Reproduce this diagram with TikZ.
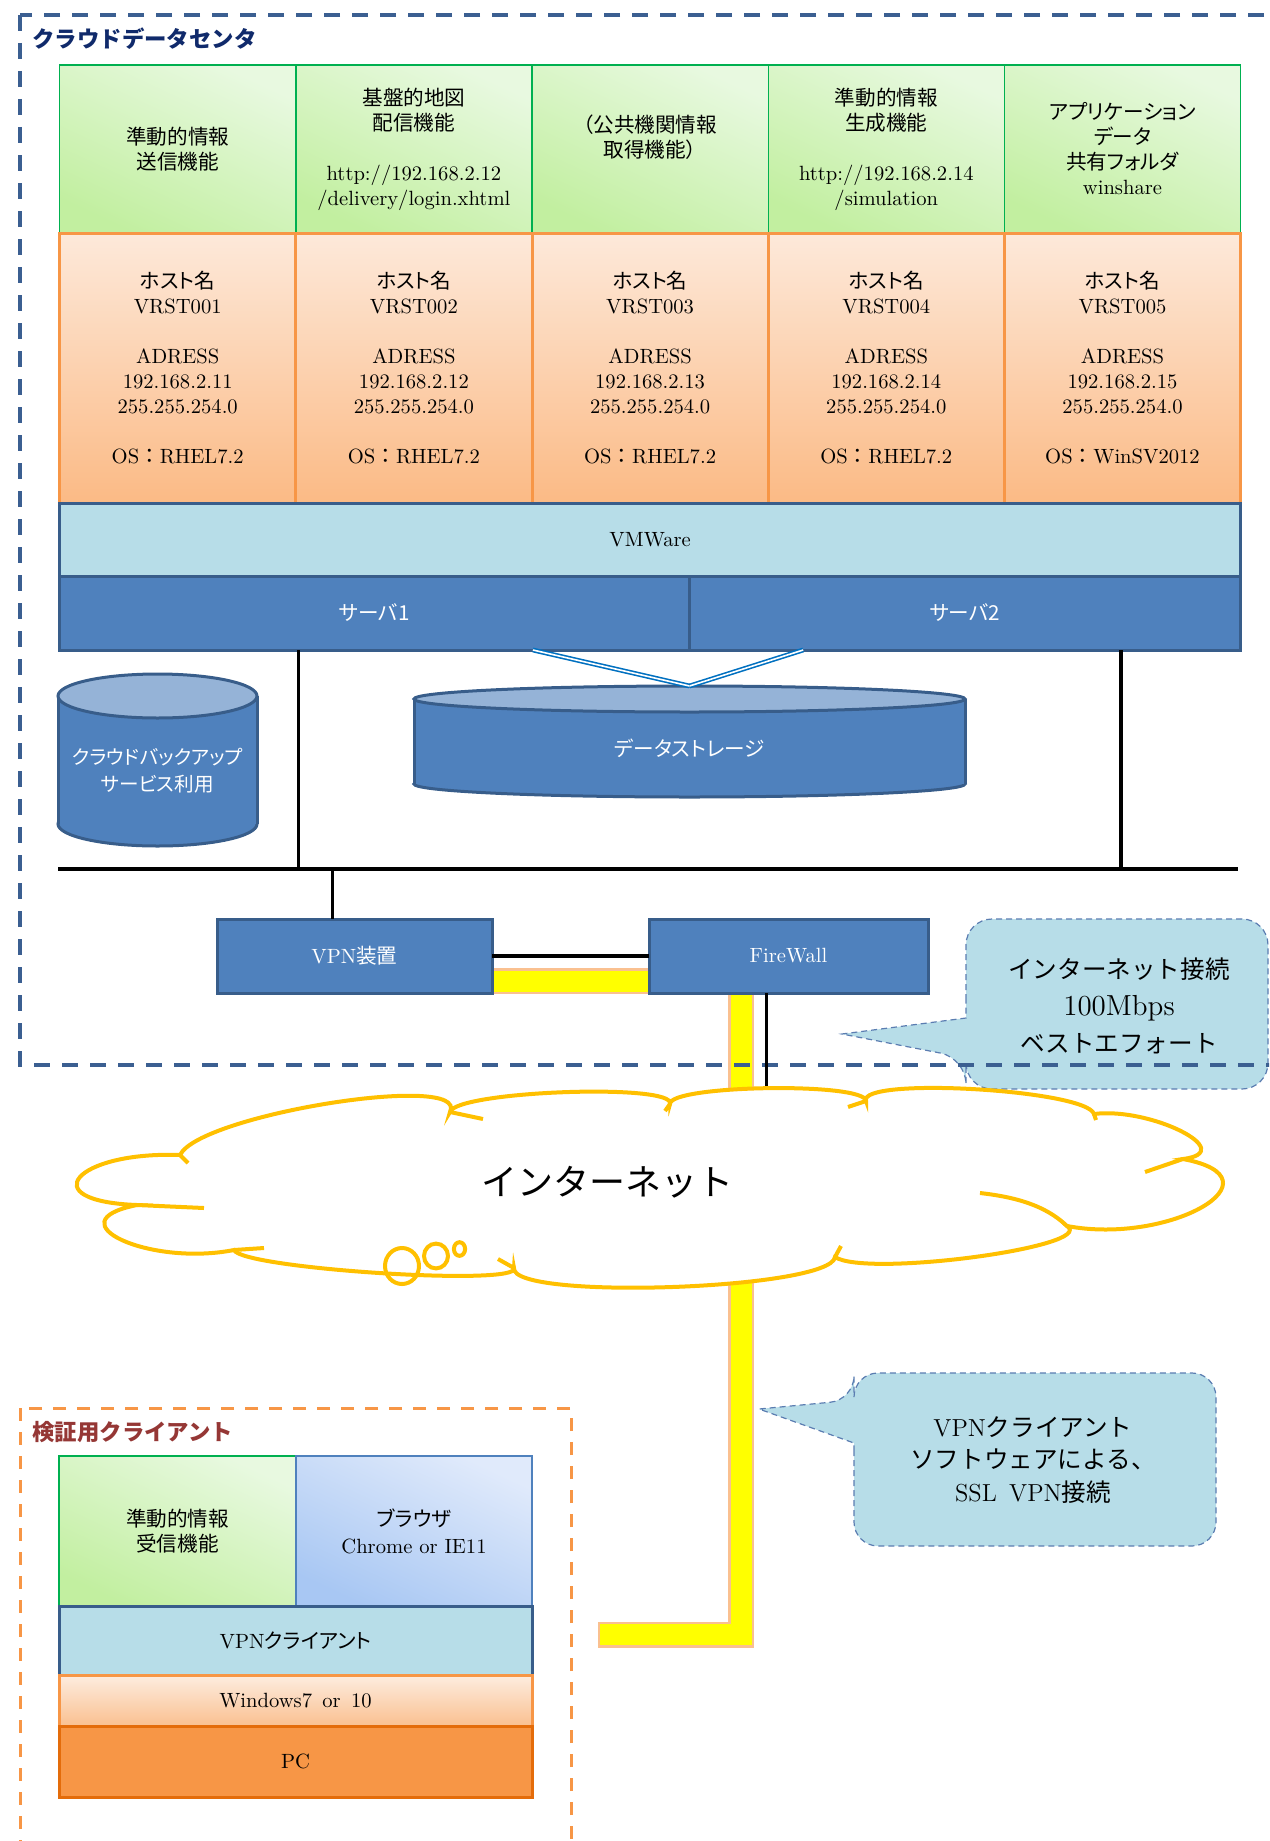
\documentclass[tikz,border=0pt]{standalone}
\usepackage{fontspec}
\newfontfamily\jpfont[RawFeature=+palt]{Noto Sans CJK JP}
\newfontfamily\jpwfont{Noto Sans CJK JP}
\newcommand\jp[1]{{\jpfont #1}}
\newcommand\jpw[1]{{\jpwfont #1}}
\usetikzlibrary{calc,positioning,backgrounds}

\definecolor{funcbot}{HTML}{C2EFA0}
\definecolor{functop}{HTML}{E8F9E0}
\definecolor{funcline}{HTML}{00B050}
\definecolor{hosttop}{HTML}{FDE9DA}
\definecolor{hostbot}{HTML}{FBBA85}
\definecolor{hostline}{HTML}{F79646}
\definecolor{wintop}{HTML}{FDEDE0}
\definecolor{winbot}{HTML}{FAC090}
\definecolor{vmfill}{HTML}{B7DDE8}
\definecolor{srvfill}{HTML}{4F81BD}
\definecolor{srvline}{HTML}{385D8A}
\definecolor{cyltop}{HTML}{95B3D7}
\definecolor{linkblue}{HTML}{0070C0}
\definecolor{pipeyellow}{HTML}{FFFF00}
\definecolor{pipeedge}{HTML}{FAC090}
\definecolor{cloudgold}{HTML}{FFC000}
\definecolor{dcdash}{HTML}{3B5F91}
\definecolor{dcnavy}{HTML}{102A6B}
\definecolor{clientred}{HTML}{953735}
\definecolor{noteedge}{HTML}{5B7DB1}
\definecolor{browsertop}{HTML}{E0EAFB}
\definecolor{browserbot}{HTML}{A8C7F3}
\definecolor{pcline}{HTML}{E46C0A}

\begin{document}
\begin{tikzpicture}[x=0.5pt, y=-0.5pt,
    cell/.style={inner sep=0pt, outer sep=0pt, align=center, font=\fontsize{10.3}{12.5}\selectfont},
    func/.style={cell, draw=funcline, line width=0.7pt, bottom color=funcbot, top color=functop, shading angle=-25, minimum width=118.1pt, minimum height=84pt},
    host/.style={cell, draw=hostline, line width=1.5pt, top color=hosttop, bottom color=hostbot, minimum width=118.1pt, minimum height=135pt},
    vmlayer/.style={cell, draw=srvline, line width=1.5pt, fill=vmfill},
    hw/.style={cell, draw=srvline, line width=1.5pt, fill=srvfill, text=white},
    cylside/.style={draw=srvline, line width=1.5pt, fill=srvfill},
    cylcap/.style={draw=srvline, line width=1.5pt, fill=cyltop},
    wire/.style={line width=1.6pt},
    bus/.style={line width=2.3pt},
    storelink/.style={draw=linkblue, double=white, line width=0.8pt, double distance=0.8pt},
    pipeback/.style={draw=pipeedge, line width=13pt, line join=miter, shorten <=-1.2pt, shorten >=-1.2pt},
    pipe/.style={draw=pipeyellow, line width=10.5pt, line join=miter},
    cloudline/.style={draw=cloudgold, line width=2pt},
    callnote/.style={fill=vmfill, draw=noteedge, line width=0.6pt, densely dashed},
    dcframe/.style={draw=dcdash, line width=1.8pt, dash pattern=on 8pt off 6pt},
    clframe/.style={draw=hostline, line width=1.5pt, dash pattern=on 6.5pt off 5.5pt},
    areatitle/.style={anchor=west, inner sep=0pt, font=\jpwfont\bfseries\fontsize{11.2}{13}\selectfont}]

\useasboundingbox (0,0) rectangle (1269,1841);
\clip (0,0) rectangle (1269,1841);

\path[callnote, rounded corners=13pt] (966,1000) -- (966,919) -- (1268,919) -- (1268,1089) -- (966,1089) -- (966,1058) [sharp corners] -- (842,1034) coordinate (nettip) -- (966,1018) -- cycle;
\node[cell, font=\fontsize{12.3}{18.5}\selectfont] (netnote) at (1119,1006) {\jpw{インターネット接続}\\{\fontsize{14.5}{18.5}\selectfont 100Mbps}\\\jpw{ベストエフォート}};

\draw[dcframe] (20,15) rectangle (1300,1065);
\node[areatitle, text=dcnavy] (dctitle) at (32,39) {クラウドデータセンタ};

\node[func] (sendfn) at (177.7,149) {\jp{準動的情報}\\\jp{送信機能}};
\node[func, right=0pt of sendfn] (mapfn) {\jp{基盤的地図}\\\jp{配信機能}\\[12.5pt]http://192.168.2.12\\/delivery/login.xhtml};
\node[func, right=0pt of mapfn] (pubfn) {\jp{（公共機関情報}\\\jp{取得機能）}\\\mbox{}};
\node[func, right=0pt of pubfn] (simfn) {\jp{準動的情報}\\\jp{生成機能}\\[12.5pt]http://192.168.2.14\\/simulation};
\node[func, right=0pt of simfn] (sharefn) {\jp{アプリケーション}\\\jp{データ}\\\jp{共有フォルダ}\\winshare};

\node[host, below=0pt of sendfn] (vrst1) {\jp{ホスト名}\\VRST001\\[12.5pt]ADRESS\\192.168.2.11\\255.255.254.0\\[12.5pt]OS\jpw{：}RHEL7.2};
\node[host, below=0pt of mapfn] (vrst2) {\jp{ホスト名}\\VRST002\\[12.5pt]ADRESS\\192.168.2.12\\255.255.254.0\\[12.5pt]OS\jpw{：}RHEL7.2};
\node[host, below=0pt of pubfn] (vrst3) {\jp{ホスト名}\\VRST003\\[12.5pt]ADRESS\\192.168.2.13\\255.255.254.0\\[12.5pt]OS\jpw{：}RHEL7.2};
\node[host, below=0pt of simfn] (vrst4) {\jp{ホスト名}\\VRST004\\[12.5pt]ADRESS\\192.168.2.14\\255.255.254.0\\[12.5pt]OS\jpw{：}RHEL7.2};
\node[host, below=0pt of sharefn] (vrst5) {\jp{ホスト名}\\VRST005\\[12.5pt]ADRESS\\192.168.2.15\\255.255.254.0\\[12.5pt]OS\jpw{：}WinSV2012};

\node[vmlayer, minimum width=590.5pt, minimum height=36.5pt, below=0pt of vrst3] (vmware) {VMWare};
\node[hw, minimum width=314.7pt, minimum height=37pt, below right=0pt and 0pt of vmware.south west] (srv1) {\jp{サーバ1}};
\node[hw, minimum width=275.8pt, minimum height=37pt, right=0pt of srv1] (srv2) {\jp{サーバ2}};

\filldraw[cylside] (157.5,824) ellipse [x radius=49.75pt, y radius=11pt];
\fill[srvfill] (58,696) rectangle (257,824);
\draw[cylside, fill=none] (58,696) -- (58,824) (257,696) -- (257,824);
\filldraw[cylcap] (157.5,696) ellipse [x radius=49.75pt, y radius=11pt];
\node[cell, text=white, font=\fontsize{9.8}{13.5}\selectfont] (backup) at (157.5,770.5) {\jp{クラウドバックアップ}\\\jp{サービス利用}};

\filldraw[cylside] (689.5,784) ellipse [x radius=137.75pt, y radius=6.5pt];
\fill[srvfill] (414,699) rectangle (965,784);
\draw[cylside, fill=none] (414,699) -- (414,784) (965,699) -- (965,784);
\filldraw[cylcap] (689.5,699) ellipse [x radius=137.75pt, y radius=6.5pt];
\node[cell, text=white, minimum width=275.5pt, minimum height=62pt] (store) at (689.5,748) {\jp{データストレージ}};

\draw[storelink] ($(srv1.south west)!0.752!(srv1.south east)$) -- (store.north);
\draw[storelink] ($(srv2.south west)!0.207!(srv2.south east)$) -- (store.north);

\coordinate (busL) at (58,869);
\coordinate (busR) at (1238,869);
\draw[bus] (busL) -- (busR);
\draw[wire] ($(srv1.south west)!0.379!(srv1.south east)$) coordinate (s1) -- (s1 |- busL);
\draw[wire] ($(srv2.south west)!0.783!(srv2.south east)$) coordinate (s2) -- (s2 |- busL);

\node[hw, minimum width=137.5pt, minimum height=37pt] (vpn) at (354.5,956) {VPN\jp{装置}};
\node[hw, minimum width=139.5pt, minimum height=37pt] (fw) at (788.5,956) {FireWall};
\draw[wire] ($(vpn.north west)!0.42!(vpn.north east)$) coordinate (v1) -- (v1 |- busL);
\draw[bus] (vpn) -- (fw);

\foreach \n/\x/\y in {J1/180/1155, E1/330/1104, J2/450/1112, E2/565/1093, J3/670/1104, E3/768/1089,
    J4/866/1101, E4/975/1090, J5/1094/1114, E5/1182/1132, J6/1183/1159, E6/1203/1208,
    J7/1067/1226, E7/975/1258, J8/835/1257, E8/672/1288, J9/514/1268, E9/380/1274,
    J10/234/1250, E10/122/1241, J11/137/1205, E11/80/1178}
  \coordinate (\n) at (\x,\y);
\foreach \a/\e/\b [count=\i] in {J1/E1/J2, J2/E2/J3, J3/E3/J4, J4/E4/J5, J5/E5/J6, J6/E6/J7,
    J7/E7/J8, J8/E8/J9, J9/E9/J10, J10/E10/J11, J11/E11/J1} {
  \coordinate (ca\i) at ($0.333*(\a)-0.667*(\b)+1.333*(\e)$);
  \coordinate (cb\i) at ($0.333*(\b)-0.667*(\a)+1.333*(\e)$);
}

\draw[wire] ($(fw.south west)!0.42!(fw.south east)$) coordinate (f1) -- (f1 |- E3);

\filldraw[cloudline, fill=white] (J1) .. controls (ca1) and (cb1) .. (J2) .. controls (ca2) and (cb2) .. (J3)
  .. controls (ca3) and (cb3) .. (J4) .. controls (ca4) and (cb4) .. (J5) .. controls (ca5) and (cb5) .. (J6)
  .. controls (ca6) and (cb6) .. (J7) .. controls (ca7) and (cb7) .. (J8) .. controls (ca8) and (cb8) .. (J9)
  .. controls (ca9) and (cb9) .. (J10) .. controls (ca10) and (cb10) .. (J11) .. controls (ca11) and (cb11) .. (J1) -- cycle;
\draw[cloudline] (J1) -- (188,1163) (J2) -- (483,1119) (J3) -- (665,1111) (J4) -- (848,1107)
  (J5) -- (1096,1120) (J6) -- (1145,1172) (J8) -- (841,1246) (J9) -- (498,1259)
  (J10) -- (264,1248) (J11) -- (204,1208);
\draw[cloudline] (J7) .. controls (1045,1205) and (1015,1197) .. (980,1193);
\draw[cloudline] (402,1266) ellipse [x radius=8.5pt, y radius=9pt];
\draw[cloudline] (436,1256) ellipse [x radius=6pt, y radius=6.2pt];
\draw[cloudline] (459.5,1249) ellipse [x radius=2.8pt, y radius=3.4pt];
\node[font=\jpwfont\fontsize{18}{20}\selectfont] (inet) at (607,1182) {インターネット};

\path[callnote, rounded corners=12pt] (854,1450) -- (854,1546) -- (1216,1546) -- (1216,1373) -- (854,1373) -- (854,1400) [sharp corners] -- (759,1409) coordinate (vpntip) -- (854,1443) -- cycle;
\node[cell, font=\fontsize{12.3}{16.25}\selectfont] (vpnnote) at (1033,1460) {VPN\jpw{クライアント}\\\jpw{ソフトウェアによる、}\\SSL\enspace VPN\jpw{接続}};

\draw[clframe] (20,1408) rectangle (571,1900);
\node[areatitle, text=clientred] (cltitle) at (32,1432) {検証用クライアント};

\node[func, minimum width=118.5pt, minimum height=75pt] (recvfn) at (177.5,1531) {\jp{準動的情報}\\\jp{受信機能}};
\node[cell, draw=srvfill, line width=0.7pt, bottom color=browserbot, top color=browsertop, shading angle=-25, minimum width=118pt, minimum height=75pt, right=0pt of recvfn] (browser) {\jp{ブラウザ}\\[1pt]Chrome or IE11};
\node[vmlayer, minimum width=236.5pt, minimum height=34.5pt, below right=0pt and 0pt of recvfn.south west] (vpncl) {VPN\jp{クライアント}};
\node[host, top color=wintop, bottom color=winbot, minimum width=236.5pt, minimum height=25.5pt, below=0pt of vpncl] (win) {Windows7\enspace or\enspace 10};
\node[cell, fill=hostline, draw=pcline, line width=1.5pt, minimum width=236.5pt, minimum height=35.5pt, below=0pt of win] (pc) {PC};

\begin{scope}[on background layer]
  \coordinate (pipestart) at ($(vpn.south east)+(-9,-12)$);
  \coordinate (pipeend) at ($(vpncl.east)+(68,-6)$);
  \coordinate (pipex) at ($(fw.south west)!0.33!(fw.south east)$);
  \draw[pipeback] (pipestart) -| (pipex |- pipeend) -- (pipeend);
  \draw[pipe] (pipestart) -| (pipex |- pipeend) -- (pipeend);
\end{scope}
\end{tikzpicture}
\end{document}
